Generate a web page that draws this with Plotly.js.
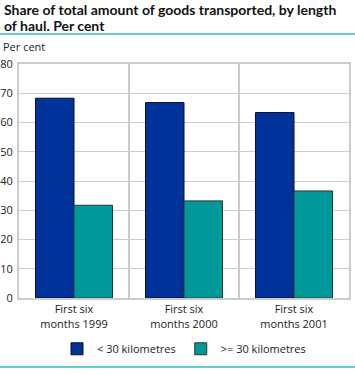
<!DOCTYPE html>
<html>
<head>
<meta charset="utf-8">
<script src="https://cdn.plot.ly/plotly-3.0.1.min.js"></script>
<style>
html,body{margin:0;padding:0;background:#fff;}
#chart{width:355px;height:375px;}
</style>
</head>
<body>
<div id="chart"></div>
<script>
var categories = ["First six<br>months 1999", "First six<br>months 2000", "First six<br>months 2001"];
var seriesNames = ["< 30 kilometres", ">= 30 kilometres"];
var shortHaul = [68.3, 66.8, 63.4];
var longHaul = [31.7, 33.2, 36.6];
var yTicks = [0, 10, 20, 30, 40, 50, 60, 70, 80];
var titleLines = ["Share of total amount of goods transported, by length", "of haul. Per cent"];

var FONT = "Open Sans, DejaVu Sans, sans-serif";
var TFONT = "Lato, Open Sans, sans-serif";
var traces = [
  {type: "bar", name: seriesNames[0], x: categories, y: shortHaul,
   marker: {color: "#003399", line: {color: "#0a0a33", width: 1}}, hoverinfo: "y"},
  {type: "bar", name: seriesNames[1], x: categories, y: longHaul,
   marker: {color: "#009999", line: {color: "#333333", width: 1}}, hoverinfo: "y"}
];

var titleAnn = titleLines.map(function (t, i) {
  return {text: "<b>" + t + "</b>", xref: "paper", yref: "paper", x: -0.052, y: [1.235, 1.1624][i],
          xanchor: "left", yanchor: "middle", align: "left", showarrow: false,
          font: {family: TFONT, size: 14, color: "#111111"}};
});

var layout = {
  width: 355, height: 375,
  margin: {l: 19, r: 6, t: 64, b: 77},
  paper_bgcolor: "#ffffff", plot_bgcolor: "#ffffff",
  font: {family: FONT, size: 11, color: "#222222"},
  barmode: "group", bargap: 0.3, bargroupgap: 0,
  showlegend: true,
  legend: {orientation: "h", x: 0.5, xanchor: "center", y: -0.155, yanchor: "top",
           font: {family: FONT, size: 11, color: "#222222"}, traceorder: "normal"},
  xaxis: {type: "category", tickson: "boundaries", showgrid: true, gridcolor: "#cccccc", gridwidth: 2,
          ticks: "", showline: true, linecolor: "#cccccc", linewidth: 2, mirror: true,
          tickfont: {family: FONT, size: 11, color: "#222222"}, fixedrange: true},
  yaxis: {range: [0, 80], tickvals: yTicks, showgrid: true, gridcolor: "#cccccc", gridwidth: 1,
          ticks: "", showline: true, linecolor: "#cccccc", linewidth: 2, mirror: true, zeroline: false,
          tickfont: {family: FONT, size: 11, color: "#222222"}, ticklabelstandoff: 2, fixedrange: true},
  annotations: titleAnn.concat([
    {text: "Per cent", xref: "paper", yref: "paper", x: -0.055, y: 1.075, xanchor: "left", yanchor: "middle",
     showarrow: false, font: {family: FONT, size: 11, color: "#222222"}}
  ]),
  shapes: [
    {type: "line", xref: "paper", yref: "paper", x0: -0.06, x1: 1.02, y0: 1.128, y1: 1.128,
     line: {color: "#66cccc", width: 2}},
    {type: "line", xref: "paper", yref: "paper", x0: -0.06, x1: 1.02, y0: -0.295, y1: -0.295,
     line: {color: "#66cccc", width: 2}}
  ]
};

Plotly.newPlot("chart", traces, layout, {displayModeBar: false, staticPlot: true});
</script>
</body>
</html>
